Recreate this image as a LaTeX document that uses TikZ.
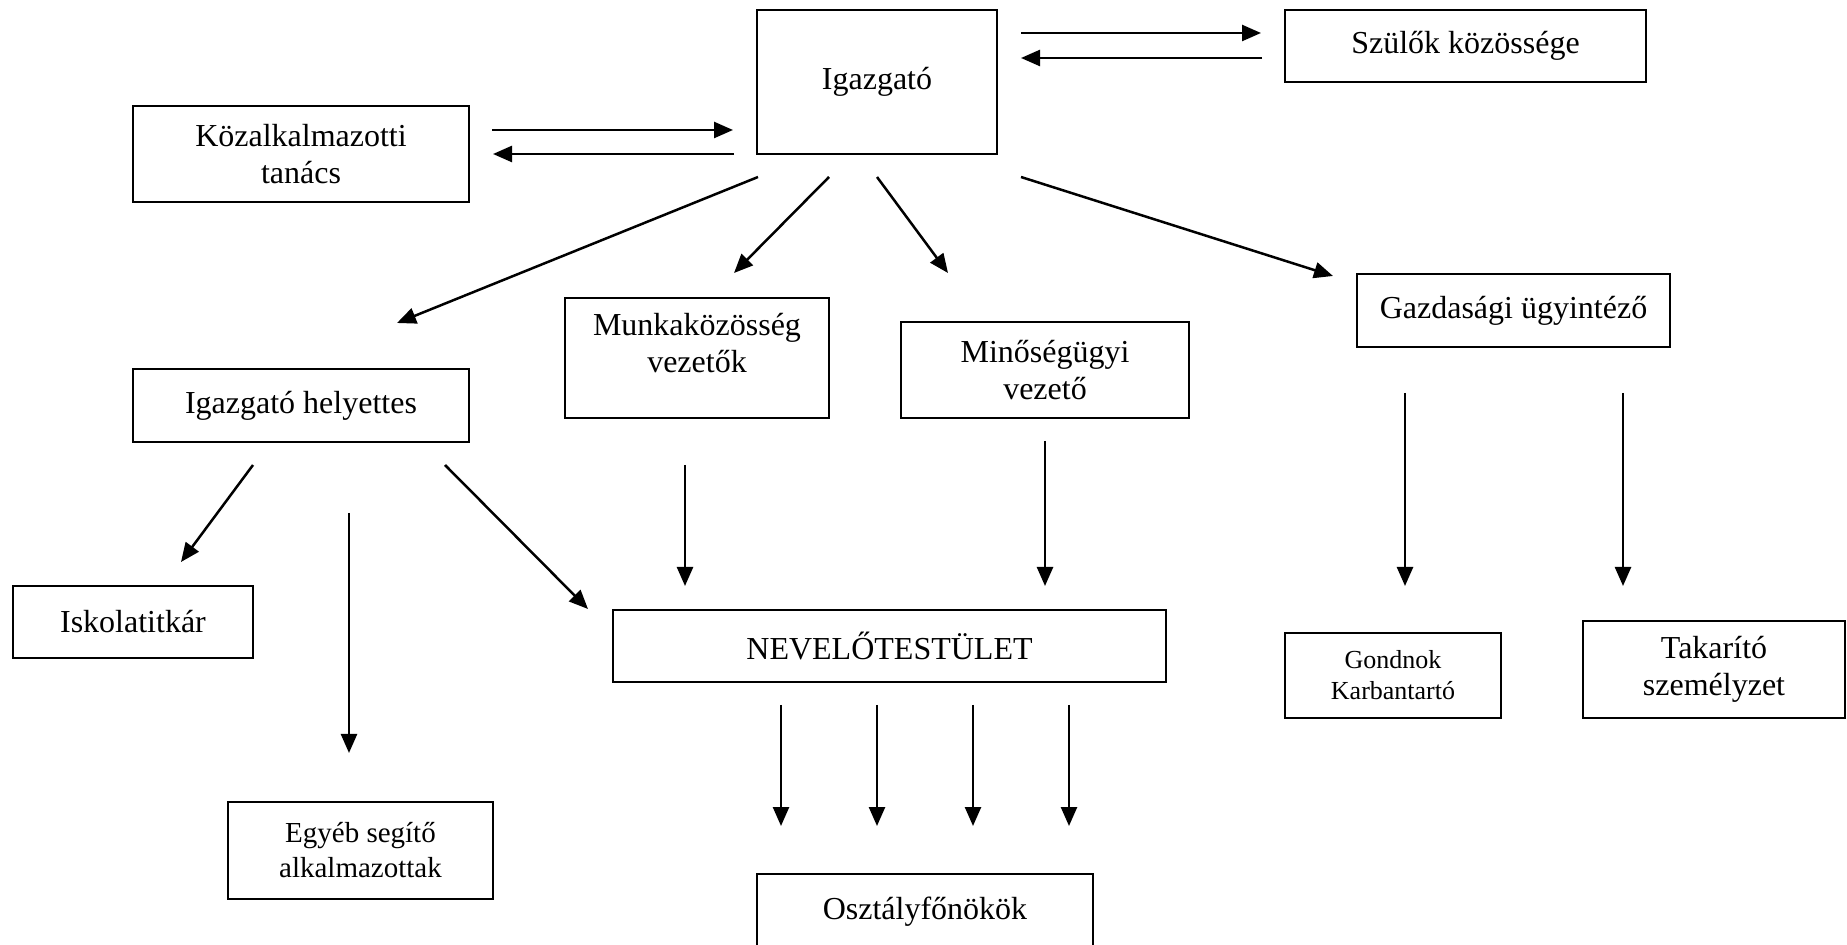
\documentclass[tikz,border=0pt]{standalone}
\usepackage{fontspec}
\setmainfont{Liberation Serif}
\usepackage{tikz}
\usetikzlibrary{arrows.meta, positioning, calc}

\begin{document}
\begin{tikzpicture}[
    x=0.5pt, y=-0.5pt,
    box/.style={rectangle, draw, line width=1.2pt, inner sep=0pt, outer sep=0pt, align=center, font=\fontsize{16}{18.5}\selectfont},
    arrow/.style={-{Triangle[length=9.5pt,width=8pt]}, line width=1.25pt},
]
\useasboundingbox (0,0) rectangle (1847,945);

\node[box, minimum width=120pt, minimum height=72pt] (igaz) at (877,82) {Igazgató};
\node[box, minimum width=180.5pt, minimum height=36pt] (szulo) at (1465.5,46) {Szülők közössége};
\node[box, minimum width=168pt, minimum height=48pt] (kozalk) at (301,154) {Közalkalmazotti\\tanács};
\node[box, minimum width=168pt, minimum height=36.5pt] (helyet) at (301,405.5) {Igazgató helyettes};
\node[box, minimum width=132pt, minimum height=60pt] (munka) at (697,358) {\raisebox{5.5pt}[\height][\depth]{\begin{tabular}{@{}c@{}}Munkaközösség\\vezetők\end{tabular}}};
\node[box, minimum width=144pt, minimum height=48pt] (minoseg) at (1045,370) {Minőségügyi\\vezető};
\node[box, minimum width=156.5pt, minimum height=36.5pt] (gazd) at (1513.5,310.5) {Gazdasági ügyintéző};
\node[box, minimum width=120pt, minimum height=36pt] (iskola) at (133,622) {Iskolatitkár};
\node[box, minimum width=132.5pt, minimum height=48.5pt, font=\fontsize{14.5}{17.5}\selectfont] (egyeb) at (360.5,850.5) {Egyéb segítő\\alkalmazottak};
\node[box, minimum width=276.5pt, minimum height=36pt] (nev) at (889.5,646) {NEVELŐTESTÜLET};
\node[box, minimum width=168pt, minimum height=38pt] (osztaly) at (925,912) {Osztályfőnökök};
\node[box, minimum width=108pt, minimum height=42.5pt, font=\fontsize{13}{15.5}\selectfont] (gondnok) at (1393,675.5) {Gondnok\\Karbantartó};
\node[box, minimum width=131pt, minimum height=48.5pt] (takar) at (1714,669.5) {Takarító\\személyzet};

\draw[arrow] ($(kozalk.east)+(23,-24)$) -- ($(igaz.west)+(-24,48)$);
\draw[arrow] ($(igaz.west)+(-23,72)$) -- ($(kozalk.east)+(24,0)$);
\draw[arrow] ($(igaz.east)+(24,-49)$) -- ($(szulo.west)+(-24,-13)$);
\draw[arrow] ($(szulo.west)+(-23,12)$) -- ($(igaz.east)+(24,-24)$);

\draw[arrow] ($(igaz.south west)+(1,23)$) -- ($(helyet.north)+(96,-46)$);
\draw[arrow] ($(igaz.south)+(-48,23)$) -- ($(munka.north)+(37,-25)$);
\draw[arrow] ($(igaz.south)+(0,23)$) -- ($(minoseg.north)+(-97,-49)$);
\draw[arrow] ($(igaz.south east)+(24,23)$) -- ($(gazd.north west)+(-24,2)$);

\draw[arrow] ($(helyet.south)+(-48,23)$) -- ($(iskola.north)+(48,-24)$);
\draw[arrow] ($(helyet.south)+(48,71)$) -- ($(egyeb.north)+(-11.5,-49)$);
\draw[arrow] ($(helyet.south east)+(-24,23)$) -- ($(nev.north west)+(-25,-1)$);
\draw[arrow] ($(munka.south)+(-12,47)$) -- ($(nev.north west)+(72,-24)$);
\draw[arrow] ($(minoseg.south)+(0,23)$) -- ($(minoseg.south)+(0,168)$);

\draw[arrow] ($(gazd.south)+(-108.5,46)$) -- ($(gondnok.north)+(12,-47)$);
\draw[arrow] ($(gazd.south)+(109.5,46)$) -- ($(takar.north)+(-91,-35)$);

\foreach \dx in {-144,-48,48,144}
    \draw[arrow] ($(nev.south -| osztaly.north)+(\dx,23)$) -- ($(osztaly.north)+(\dx,-48)$);

\end{tikzpicture}
\end{document}
